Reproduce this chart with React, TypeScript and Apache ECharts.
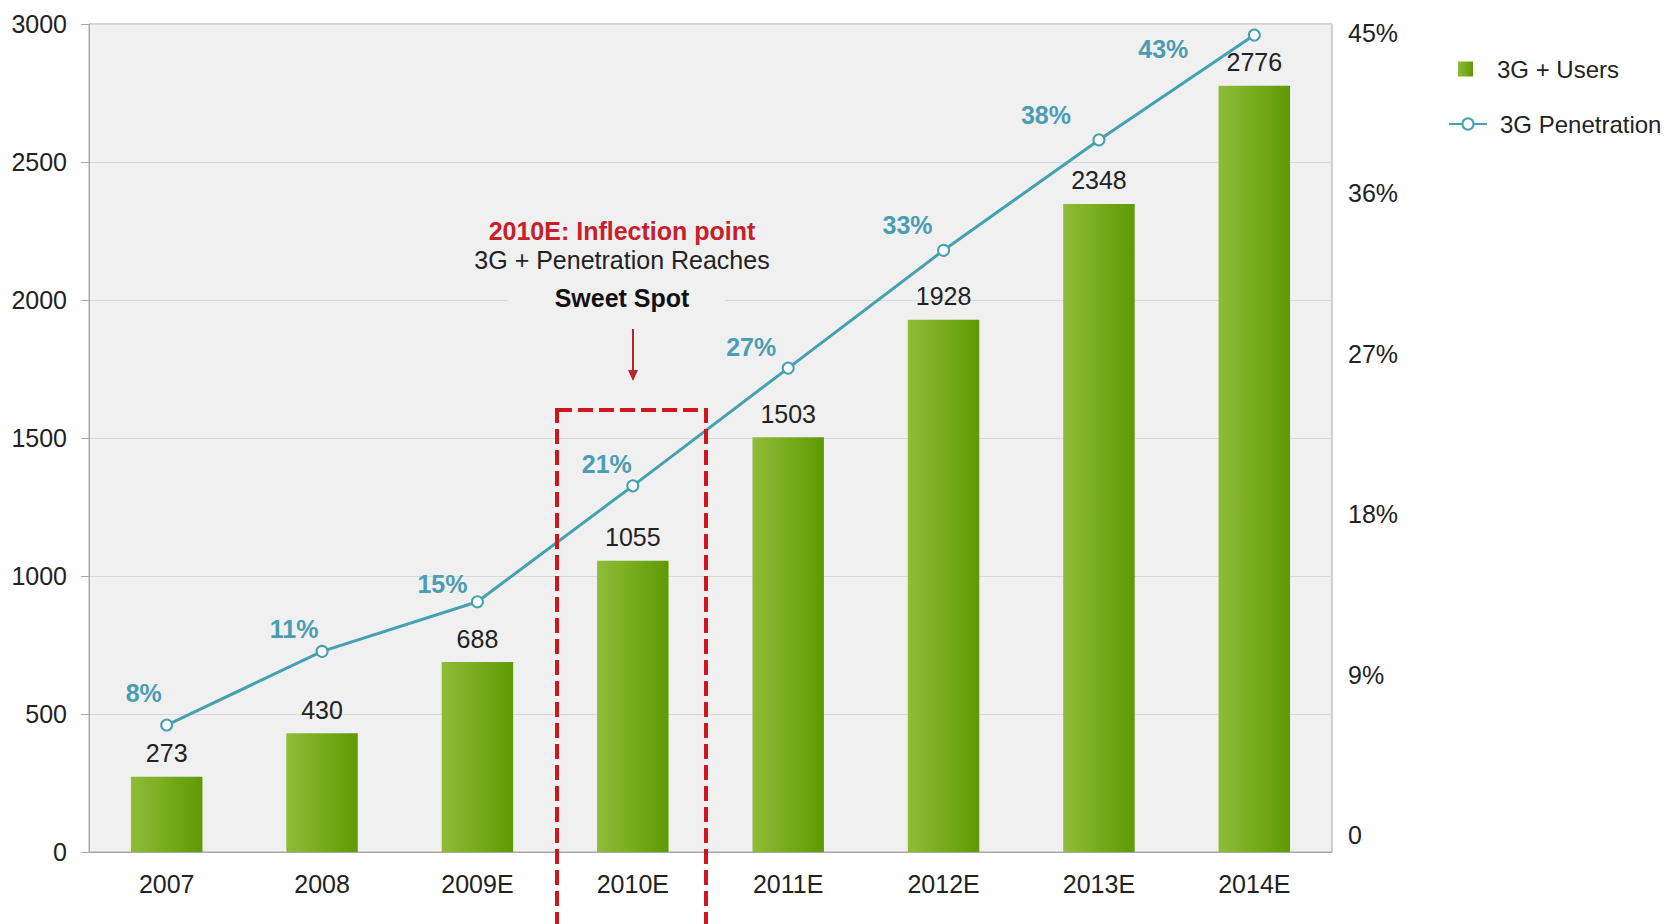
import React, { useEffect, useRef } from "react";
import * as echarts from "echarts";

const categories = ["2007", "2008", "2009E", "2010E", "2011E", "2012E", "2013E", "2014E"];
const users = [273, 430, 688, 1055, 1503, 1928, 2348, 2776];
// penetration values as read from the plotted point heights (0-45% scale of the plot area)
const penetration = [6.9, 10.9, 13.6, 19.9, 26.3, 32.7, 38.7, 44.4];
const penetrationLabels = ["8%", "11%", "15%", "21%", "27%", "33%", "38%", "43%"];
const leftTicks = { min: 0, max: 3000, interval: 500 };
const rightTicks = { min: 0, max: 45, interval: 9 };

// label offsets (styling only)
const labelOffsets: [number, number][] = [
  [-23, -32], [-28, -22], [-35, -18], [-26, -22], [-37, -21], [-36, -25], [-53, -25], [-91, 14],
];

const FONT = 'Arial, "Liberation Sans", sans-serif';
const FS = 25;

export default function App() {
  const ref = useRef<HTMLDivElement>(null);
  useEffect(() => {
    document.body.style.margin = "0";
    const chart = echarts.init(ref.current!, null, { renderer: "svg" });
    const barGradient = new echarts.graphic.LinearGradient(0, 0, 1, 0, [
      { offset: 0, color: "#8fbc38" },
      { offset: 0.45, color: "#7aad1f" },
      { offset: 1, color: "#5e9a05" },
    ]);
    chart.setOption({
      animation: false,
      backgroundColor: "#ffffff",
      textStyle: { fontFamily: FONT },
      grid: [
        {
          left: 89, right: 341, top: 24, bottom: 72, containLabel: false,
          show: true, backgroundColor: "#f0f0f0", borderColor: "#a8a8a8", borderWidth: 1,
        },
        { left: 1332, width: 1, top: 33, bottom: 89, containLabel: false },
      ],
      legend: [
        {
          data: [{ name: "3G + Users", icon: "rect" }], orient: "vertical", left: 1453, top: 52,
          itemWidth: 15, itemHeight: 15,
          textStyle: { fontSize: 24, color: "#222", fontFamily: FONT, padding: [0, 0, 0, 19] },
        },
        {
          data: ["3G Penetration"], orient: "vertical", left: 1443, top: 107,
          itemWidth: 38, itemHeight: 14,
          textStyle: { fontSize: 24, color: "#222", fontFamily: FONT, padding: [0, 0, 0, 8] },
        },
      ],
      xAxis: [
        {
          type: "category", data: categories, gridIndex: 0,
          axisLine: { lineStyle: { color: "#a8a8a8", width: 1 } },
          axisTick: { show: false },
          axisLabel: { fontSize: FS, color: "#222", margin: 19, fontFamily: FONT },
        },
        { type: "category", data: categories, gridIndex: 1, show: false },
      ],
      yAxis: [
        {
          type: "value", gridIndex: 0, ...leftTicks,
          axisLine: { show: true, lineStyle: { color: "#a8a8a8" } },
          axisTick: { show: true, length: 8, lineStyle: { color: "#a8a8a8" } },
          axisLabel: { fontSize: FS, color: "#222", margin: 22, fontFamily: FONT, formatter: (v: number) => String(v) },
          splitLine: { lineStyle: { color: "#d9d9d9", width: 1 } },
        },
        { type: "value", gridIndex: 0, min: 0, max: 45, show: false, position: "right" },
        {
          type: "value", gridIndex: 1, ...rightTicks, position: "right",
          axisLine: { show: false }, axisTick: { show: false }, splitLine: { show: false },
          axisLabel: {
            fontSize: FS, color: "#222", margin: 15, fontFamily: FONT,
            formatter: (v: number) => (v === 0 ? "0" : v + "%"),
          },
        },
      ],
      series: [
        {
          name: "3G + Users", type: "bar", data: users, barWidth: "46%",
          itemStyle: { color: barGradient },
          label: { show: true, position: "top", distance: 11, fontSize: FS, color: "#222", fontFamily: FONT },
          z: 2,
        },
        {
          name: "3G Penetration", type: "line", yAxisIndex: 1,
          data: penetration.map((v, i) => ({
            value: v,
            label: { offset: labelOffsets[i], formatter: penetrationLabels[i] },
          })),
          symbol: "emptyCircle", symbolSize: 11,
          lineStyle: { color: "#45a0b0", width: 3 },
          itemStyle: { color: "#45a0b0", borderWidth: 2, borderColor: "#45a0b0" },
          label: {
            show: true, position: "inside", fontSize: FS, fontWeight: "bold",
            color: "#4b9db3", fontFamily: FONT,
          },
          z: 4,
        },
      ],
      graphic: [
        { type: "rect", z: 1, shape: { x: 508, y: 212, width: 217, height: 100 }, style: { fill: "#f0f0f0" } },
        {
          type: "text", z: 5, x: 622, y: 231,
          style: { text: "2010E: Inflection point", font: `bold ${FS}px ${FONT}`, fill: "#c8202a", align: "center", verticalAlign: "middle" },
        },
        {
          type: "text", z: 5, x: 622, y: 260,
          style: { text: "3G + Penetration Reaches", font: `${FS}px ${FONT}`, fill: "#222", align: "center", verticalAlign: "middle" },
        },
        {
          type: "text", z: 5, x: 622, y: 298,
          style: { text: "Sweet Spot", font: `bold ${FS}px ${FONT}`, fill: "#111", align: "center", verticalAlign: "middle" },
        },
        { type: "line", z: 5, shape: { x1: 633, y1: 329, x2: 633, y2: 372 }, style: { stroke: "#b5252b", lineWidth: 2 } },
        { type: "polygon", z: 5, shape: { points: [[628, 370], [638, 370], [633, 381]] }, style: { fill: "#b5252b" } },
        {
          type: "rect", z: 10, shape: { x: 557, y: 410, width: 149, height: 540 },
          style: { fill: "none", stroke: "#d0161d", lineWidth: 4, lineDash: [15, 6] },
        },
      ],
    });
    return () => chart.dispose();
  }, []);
  return <div ref={ref} style={{ width: 1673, height: 924 }} />;
}
